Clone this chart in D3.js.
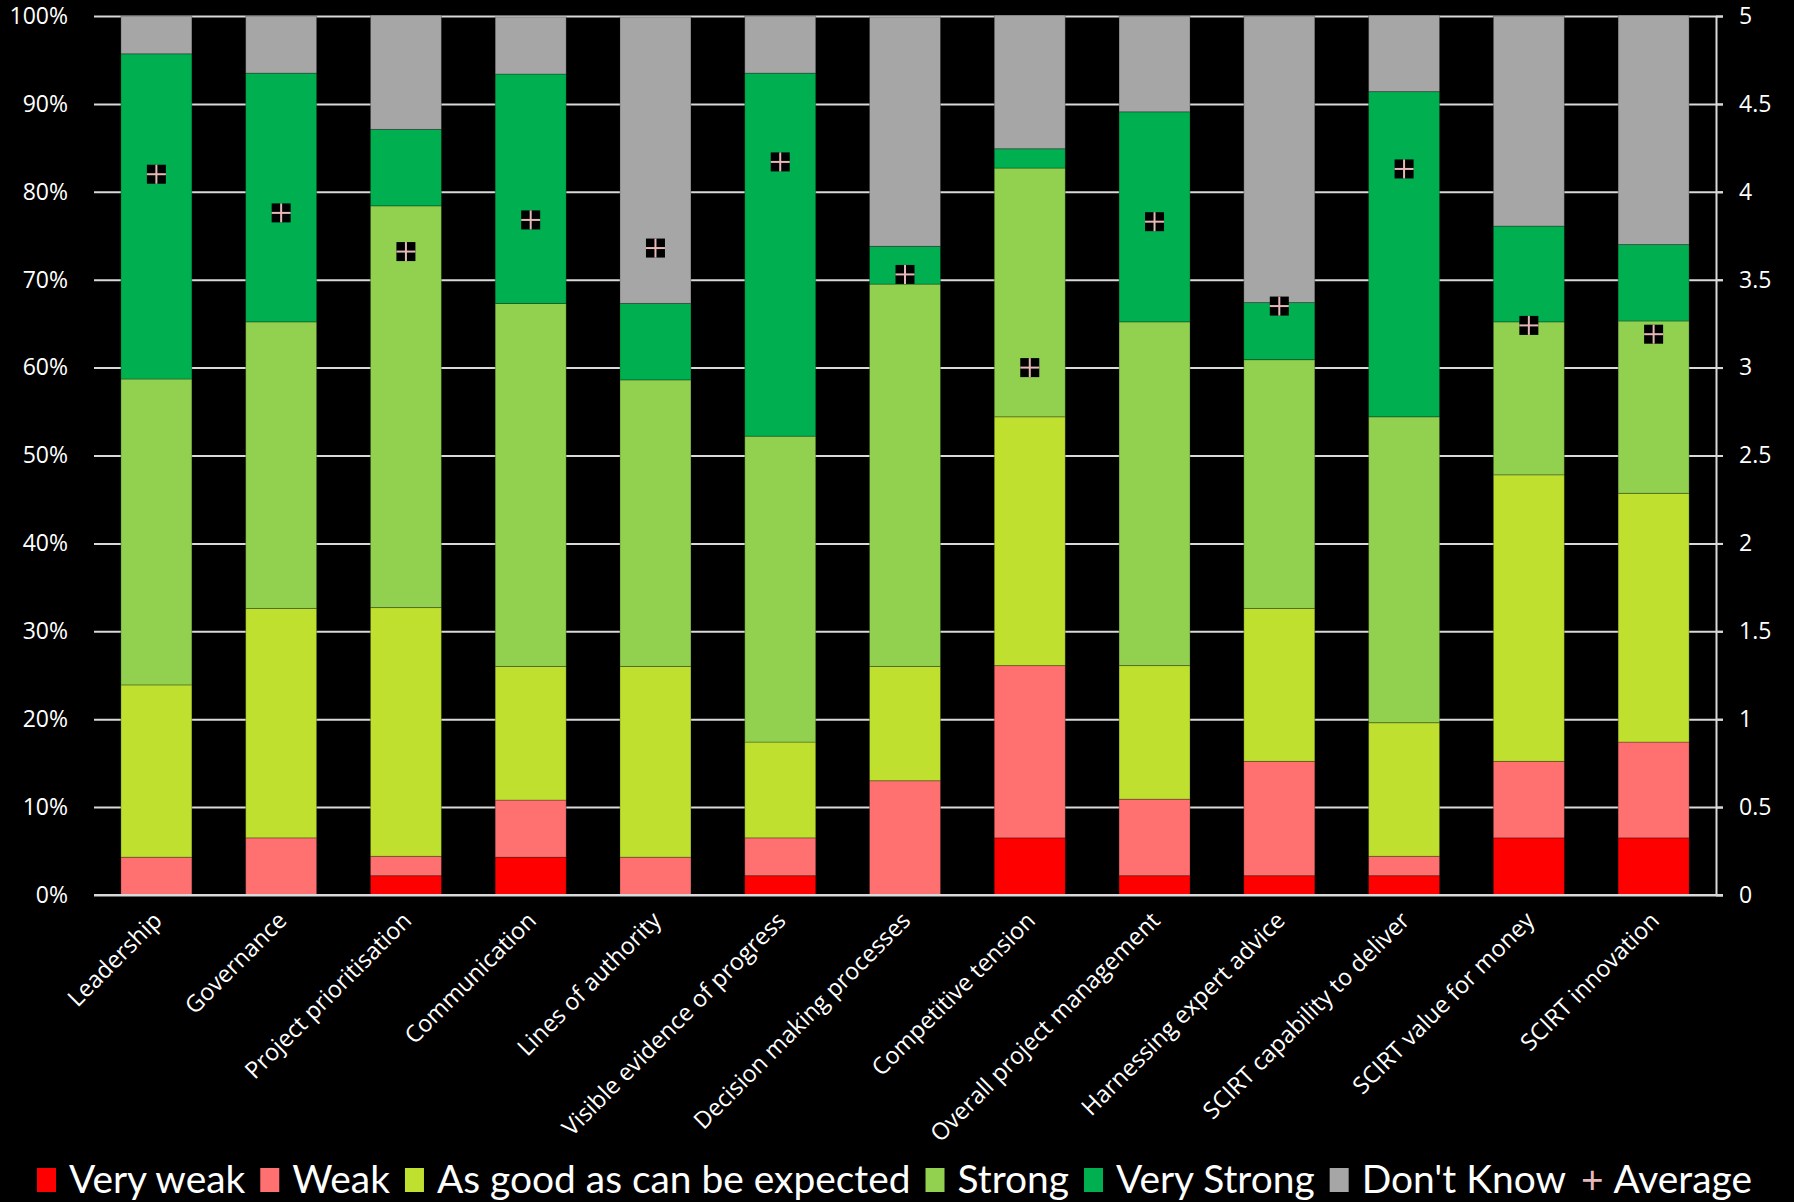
<!DOCTYPE html>
<html>
<head>
<meta charset="utf-8">
<script src="https://cdn.jsdelivr.net/npm/d3@7"></script>
<style>
  body { margin: 0; background: #000; }
  svg { display: block; }
</style>
</head>
<body>
<div id="chart"></div>
<script>
// categories and percentages
let categories = ["Leadership", "Governance", "Project prioritisation", "Communication",
  "Lines of authority", "Visible evidence of progress", "Decision making processes",
  "Competitive tension", "Overall project management", "Harnessing expert advice",
  "SCIRT capability to deliver", "SCIRT value for money", "SCIRT innovation"];

let veryWeak   = [0, 0, 2.2, 4.3, 0, 2.2, 0, 6.5, 2.2, 2.2, 2.2, 6.5, 6.5];
let weak       = [4.3, 6.5, 2.2, 6.5, 4.3, 4.3, 13.0, 19.6, 8.7, 13.0, 2.2, 8.7, 10.9];
let asGood     = [19.6, 26.1, 28.3, 15.2, 21.7, 10.9, 13.0, 28.3, 15.2, 17.4, 15.2, 32.6, 28.3];
let strong     = [34.8, 32.6, 45.7, 41.3, 32.6, 34.8, 43.5, 28.3, 39.1, 28.3, 34.8, 17.4, 19.6];
let veryStrong = [37.0, 28.3, 8.7, 26.1, 8.7, 41.3, 4.3, 2.2, 23.9, 6.5, 37.0, 10.9, 8.7];
let dontKnow   = [4.3, 6.5, 13.0, 6.5, 32.6, 6.5, 26.1, 15.2, 10.9, 32.6, 8.7, 23.9, 26.1];
let average    = [4.10, 3.88, 3.66, 3.84, 3.68, 4.17, 3.53, 3.00, 3.83, 3.35, 4.13, 3.24, 3.19];

let seriesNames = ["Very weak", "Weak", "As good as can be expected", "Strong", "Very Strong", "Don't Know"];
let seriesData = [veryWeak, weak, asGood, strong, veryStrong, dontKnow];
let colors = ["#ff0000", "#ff7171", "#c0e030", "#92d050", "#00b050", "#a6a6a6"];
let crossColor = "#e6b9b8";

let W = 1794, H = 1202;
let plotL = 94, plotR = 1716, plotT = 16, plotB = 895;

let svg = d3.select("#chart")
              .append("svg")
                .attr("width", W)
                .attr("height", H)
                .style("background", "#000")
;

let x = d3.scaleBand()
            .domain(categories)
            .range([plotL, plotR])
            .paddingInner(0.431)
            .paddingOuter(0.2155);

let y = d3.scaleLinear().domain([0, 100]).range([plotB, plotT]);
let y2 = d3.scaleLinear().domain([0, 5]).range([plotB, plotT]);

// gridlines behind the bars
let grid = svg.append("g")
    .attr("transform", "translate(" + plotL + ",0)")
    .call(d3.axisRight(y).tickValues(d3.range(0, 101, 10)).tickSize(plotR - plotL + 7).tickFormat(""));
grid.select(".domain").remove();
grid.selectAll("line").attr("stroke", "#d9d9d9").attr("stroke-width", 2);

// build rows for the stack
let rows = categories.map(function(c, i) {
  let r = { cat: c };
  seriesNames.forEach(function(s, j) { r[s] = seriesData[j][i]; });
  return r;
});
let stack = d3.stack().keys(seriesNames)(rows);

svg.append("g").selectAll("g")
    .data(stack)
    .join("g")
      .attr("fill", function(d, i) { return colors[i]; })
    .selectAll("rect")
    .data(function(d) { return d; })
    .join("rect")
      .attr("x", function(d) { return x(d.data.cat); })
      .attr("y", function(d) { return y(d[1]); })
      .attr("width", x.bandwidth())
      .attr("height", function(d) { return y(d[0]) - y(d[1]); })
      .attr("stroke", "rgba(0,0,0,0.25)")
      .attr("stroke-width", 1);

// left axis labels
let yl = svg.append("g")
    .attr("transform", "translate(" + plotL + ",0)")
    .call(d3.axisLeft(y).tickValues(d3.range(0, 101, 10)).tickSize(0).tickPadding(26)
      .tickFormat(function(d) { return d + "%"; }));
yl.select(".domain").remove();
yl.selectAll("text").attr("fill", "#fff").style("font-family", "Open Sans").style("font-size", "23px");

// right axis
let yr = svg.append("g")
    .attr("transform", "translate(" + plotR + ",0)")
    .call(d3.axisRight(y2).tickValues(d3.range(0, 5.01, 0.5)).tickSize(7).tickSizeOuter(0).tickPadding(16)
      .tickFormat(function(d) { return d; }));
yr.select(".domain").attr("stroke", "#d9d9d9").attr("stroke-width", 2);
yr.selectAll("line").attr("stroke", "#d9d9d9").attr("stroke-width", 2);
yr.selectAll("text").attr("fill", "#fff").style("font-family", "Open Sans").style("font-size", "23px");

// bottom line
svg.append("line")
    .attr("x1", plotL).attr("x2", plotR + 7)
    .attr("y1", y(0)).attr("y2", y(0))
    .attr("stroke", "#d9d9d9").attr("stroke-width", 2);

// x labels rotated
svg.append("g").selectAll("text")
    .data(categories)
    .join("text")
      .attr("transform", function(d) {
        return "translate(" + (x(d) + x.bandwidth() / 2 + 7) + "," + (plotB + 27) + ") rotate(-45)";
      })
      .attr("text-anchor", "end")
      .attr("fill", "#fff")
      .style("font-family", "Open Sans")
      .style("font-size", "23.5px")
      .text(function(d) { return d; });

// average markers
let mk = svg.append("g").selectAll("g")
    .data(average)
    .join("g")
      .attr("transform", function(d, i) {
        return "translate(" + (x(categories[i]) + x.bandwidth() / 2) + "," + y2(d) + ")";
      });
mk.append("rect").attr("x", -9.5).attr("y", -9.5).attr("width", 19).attr("height", 19).attr("fill", "#000");
mk.append("line").attr("x1", -9.5).attr("x2", 9.5).attr("y1", 0).attr("y2", 0)
    .attr("stroke", crossColor).attr("stroke-width", 2);
mk.append("line").attr("x1", 0).attr("x2", 0).attr("y1", -9.5).attr("y2", 9.5)
    .attr("stroke", crossColor).attr("stroke-width", 2);

// legend
let lg = svg.append("g").attr("transform", "translate(37,1193)");
let lx = 0;
seriesNames.forEach(function(s, i) {
  lg.append("rect").attr("x", lx).attr("y", -25).attr("width", 19).attr("height", 24).attr("fill", colors[i]);
  lx += 19 + 13;
  let t = lg.append("text").attr("x", lx).attr("y", 0).attr("fill", "#fff")
      .style("font-family", "Lato").style("font-size", "38.9px").text(s);
  lx += t.node().getComputedTextLength() + 15;
});
let plus = lg.append("text").attr("x", lx).attr("y", 0).attr("fill", crossColor)
    .style("font-family", "Lato").style("font-size", "38.9px").text("+");
lx += plus.node().getComputedTextLength() + 10;
lg.append("text").attr("x", lx).attr("y", 0).attr("fill", "#fff")
    .style("font-family", "Lato").style("font-size", "38.9px").text("Average");
</script>
</body>
</html>
